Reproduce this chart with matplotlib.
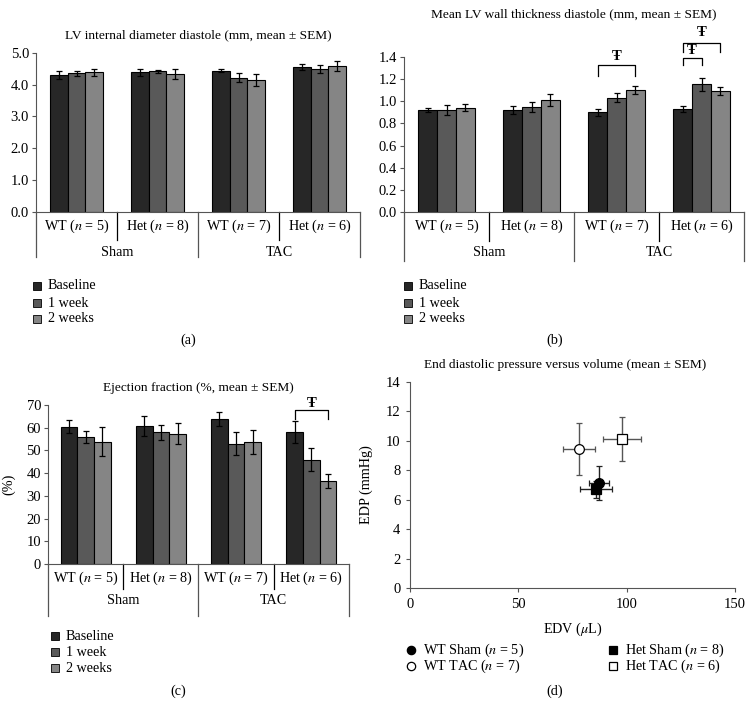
import numpy as np
import matplotlib
matplotlib.use("Agg")
import matplotlib.pyplot as plt
import matplotlib.transforms as mtransforms
from matplotlib.patches import Rectangle
from matplotlib.lines import Line2D

plt.rcParams['font.family'] = ['Liberation Serif', 'DejaVu Serif']
plt.rcParams['font.size'] = 10
plt.rcParams['mathtext.fontset'] = 'stix'

W, H = 752, 705
TITLE_FS = 9.6
LABEL_FS = 10.2
TICK_FS = 10.5

groups = ['WT ($n$ = 5)', 'Het ($n$ = 8)', 'WT ($n$ = 7)', 'Het ($n$ = 6)']
surgery = ['Sham', 'TAC']
timepoints = ['Baseline', '1 week', '2 weeks']
bar_colors = ['#272727', '#595959', '#858585']

# LV internal diameter diastole (mm)
lvid_mean = [[4.31, 4.38, 4.44, 4.55],
             [4.36, 4.41, 4.22, 4.49],
             [4.38, 4.32, 4.15, 4.58]]
lvid_sem = [[0.13, 0.12, 0.06, 0.10],
            [0.08, 0.05, 0.15, 0.13],
            [0.10, 0.16, 0.18, 0.16]]

# Mean LV wall thickness diastole (mm)
wall_mean = [[0.92, 0.92, 0.90, 0.93],
             [0.92, 0.95, 1.03, 1.15],
             [0.94, 1.01, 1.10, 1.09]]
wall_sem = [[0.02, 0.04, 0.03, 0.03],
            [0.045, 0.045, 0.04, 0.06],
            [0.03, 0.055, 0.04, 0.035]]

# Ejection fraction (%)
ef_mean = [[60.5, 60.7, 63.7, 58.0],
           [55.8, 58.0, 53.0, 46.0],
           [53.8, 57.4, 53.6, 36.5]]
ef_sem = [[2.8, 4.5, 3.0, 4.8],
          [2.6, 3.3, 5.0, 5.0],
          [6.3, 4.5, 5.2, 3.0]]

# EDP vs EDV
pv_labels = ['WT Sham ($n$ = 5)', 'WT TAC ($n$ = 7)', 'Het Sham ($n$ = 8)', 'Het TAC ($n$ = 6)']
edv = [87.2, 78.0, 86.0, 98.0]
edv_err = [4.6, 7.4, 7.4, 8.8]
edp = [7.15, 9.45, 6.7, 10.1]
edp_err = [1.15, 1.77, 0.55, 1.5]
pv_markers = ['o', 'o', 's', 's']
pv_fill = ['black', 'white', 'black', 'white']
pv_ecolor = ['#222222', '#555555', '#222222', '#555555']

fig = plt.figure(figsize=(W / 100, H / 100), dpi=100)


def add_ax(left, top, right, bottom):
    return fig.add_axes([left / W, 1 - bottom / H, (right - left) / W, (bottom - top) / H])


def fy(py):
    return 1 - py / H


def bar_panel(ax, means, sems, ylim, yticks, fmt, row1_y, row_end, row2_y, outer_end):
    bw = 0.222
    x = np.arange(len(groups)) + 0.5
    for k in range(3):
        ax.bar(x + (k - 1) * bw, means[k], bw, color=bar_colors[k], edgecolor='black',
               linewidth=0.8, yerr=sems[k], error_kw=dict(ecolor='black', elinewidth=0.9,
                                                            capsize=2, capthick=0.9))
    ax.set_xlim(0, 4)
    ax.set_ylim(*ylim)
    ax.set_yticks(yticks)
    ax.set_yticklabels([fmt.format(v) for v in yticks])
    ax.set_xticks([])
    for s in ['top', 'right']:
        ax.spines[s].set_visible(False)
    ax.spines['left'].set_color('#555555')
    ax.spines['bottom'].set_color('#555555')
    ax.tick_params(axis='y', length=3, color='#555555', labelsize=TICK_FS, pad=2)
    tr = mtransforms.blended_transform_factory(ax.transData, fig.transFigure)
    y0 = ax.get_position().y0
    for xi in [1, 3]:
        ax.add_line(Line2D([xi, xi], [y0, fy(row_end)], transform=tr, color='black',
                           linewidth=0.9, clip_on=False))
    for xi in [0, 2, 4]:
        ax.add_line(Line2D([xi, xi], [y0, fy(outer_end)], transform=tr, color='#555555',
                           linewidth=0.9, clip_on=False))
    for i, g in enumerate(groups):
        ax.text(i + 0.5, fy(row1_y), g, transform=tr, ha='center', va='center', fontsize=LABEL_FS)
    for j, s in enumerate(surgery):
        ax.text(2 * j + 1, fy(row2_y), s, transform=tr, ha='center', va='center', fontsize=LABEL_FS)


def bracket(ax, x1, x2, top, end1, end2, label_y):
    ax.plot([x1, x1, x2, x2], [end1, top, top, end2], color='black', linewidth=0.9, clip_on=False)
    ax.text((x1 + x2) / 2, label_y, 'Ŧ', ha='center', va='center', fontsize=10.5,
            fontweight='bold', clip_on=False)


def bar_legend(x, ys):
    for k in range(3):
        fig.patches.append(Rectangle(((x - 4) / W, fy(ys[k] + 4)), 8 / W, 8 / H,
                                     transform=fig.transFigure, facecolor=bar_colors[k],
                                     edgecolor='black', linewidth=0.6))
        fig.text((x + 11) / W, fy(ys[k]), timepoints[k], ha='left', va='center', fontsize=LABEL_FS)


# (a)
ax_a = add_ax(36, 52.7, 360, 212)
bar_panel(ax_a, lvid_mean, lvid_sem, (0, 5), np.arange(0, 5.01, 1.0), '{:.1f}', 226, 240, 252, 257)
fig.text(198 / W, fy(35), 'LV internal diameter diastole (mm, mean ± SEM)', ha='center',
         va='center', fontsize=TITLE_FS)
bar_legend(37, [286, 303, 319])
fig.text(188 / W, fy(340), '(a)', ha='center', va='center', fontsize=LABEL_FS)

# (b)
ax_b = add_ax(404, 56.7, 744, 212.3)
bar_panel(ax_b, wall_mean, wall_sem, (0, 1.4), np.arange(0, 1.41, 0.2), '{:.1f}', 226, 241, 252, 261)
fig.text(574 / W, fy(14), 'Mean LV wall thickness diastole (mm, mean ± SEM)', ha='center',
         va='center', fontsize=TITLE_FS)
bw = 0.222
bracket(ax_b, 2.5 - bw, 2.5 + bw, 1.326, 1.227, 1.227, 1.40)
bracket(ax_b, 3.5 - bw, 3.5, 1.39, 1.326, 1.326, 1.46)
bracket(ax_b, 3.5 - bw, 3.5 + bw, 1.52, 1.44, 1.44, 1.62)
bar_legend(408, [286, 303, 319])
fig.text(555 / W, fy(340), '(b)', ha='center', va='center', fontsize=LABEL_FS)

# (c)
ax_c = add_ax(48, 405, 349, 564)
bar_panel(ax_c, ef_mean, ef_sem, (0, 70), np.arange(0, 71, 10), '{:.0f}', 578, 589, 600, 616)
ax_c.set_ylabel('(%)', fontsize=LABEL_FS, labelpad=8)
fig.text(198 / W, fy(388), 'Ejection fraction (%, mean ± SEM)', ha='center', va='center',
         fontsize=TITLE_FS)
bracket(ax_c, 3.5 - bw, 3.5 + bw, 67.8, 63.9, 63.9, 70.8)
bar_legend(55, [636, 652, 668])
fig.text(178 / W, fy(691), '(c)', ha='center', va='center', fontsize=LABEL_FS)

# (d)
ax_d = add_ax(410, 382, 735, 588)
for i in range(4):
    ax_d.errorbar(edv[i], edp[i], xerr=edv_err[i], yerr=edp_err[i], fmt=pv_markers[i],
                  markersize=7, markerfacecolor=pv_fill[i], markeredgecolor='black',
                  markeredgewidth=0.9, ecolor=pv_ecolor[i], elinewidth=1.0, capsize=2,
                  capthick=1.0, label=pv_labels[i])
ax_d.set_xlim(0, 150)
ax_d.set_ylim(0, 14)
ax_d.set_xticks([0, 50, 100, 150])
ax_d.set_yticks(np.arange(0, 15, 2))
for s in ['top', 'right']:
    ax_d.spines[s].set_visible(False)
ax_d.spines['left'].set_color('#555555')
ax_d.spines['bottom'].set_color('#555555')
ax_d.tick_params(axis='both', length=3, color='#555555', labelsize=TICK_FS, pad=4)
ax_d.set_xlabel('EDV ($\\mu$L)', fontsize=LABEL_FS, labelpad=7)
ax_d.set_ylabel('EDP (mmHg)', fontsize=LABEL_FS, labelpad=9)
fig.text(565 / W, fy(365), 'End diastolic pressure versus volume (mean ± SEM)', ha='center',
         va='center', fontsize=TITLE_FS)
leg_pos = [(411, 650), (411, 666), (613, 650), (613, 666)]
for i in range(4):
    fig.add_artist(Line2D([(leg_pos[i][0]) / W], [fy(leg_pos[i][1])], marker=pv_markers[i],
                          markersize=6, markerfacecolor=pv_fill[i], markeredgecolor='black',
                          markeredgewidth=0.9, linestyle='none', transform=fig.transFigure))
    fig.text((leg_pos[i][0] + 12) / W, fy(leg_pos[i][1]), pv_labels[i], ha='left', va='center',
             fontsize=LABEL_FS)
fig.text(555 / W, fy(691), '(d)', ha='center', va='center', fontsize=LABEL_FS)

fig.savefig('out.png', dpi=100)
